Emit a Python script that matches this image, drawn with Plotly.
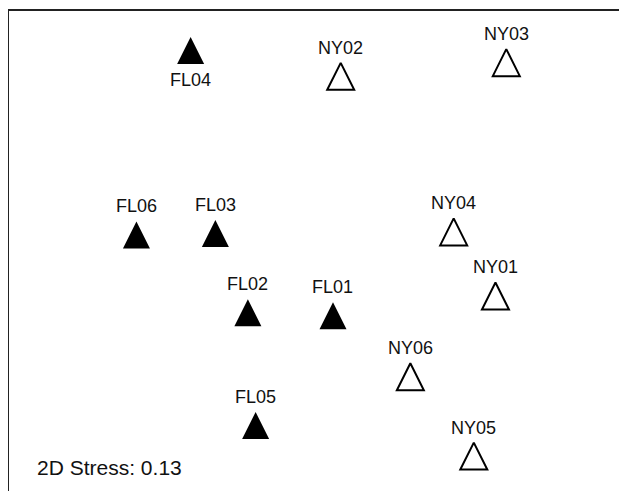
import plotly.graph_objects as go

# NMDS ordination scores (axis units)
fl_sites = ["FL01", "FL02", "FL03", "FL04", "FL05", "FL06"]
fl_x = [0.10, -0.45, -0.66, -0.82, -0.40, -1.17]
fl_y = [-0.31, -0.29, 0.23, 1.43, -1.03, 0.22]

ny_sites = ["NY01", "NY02", "NY03", "NY04", "NY05", "NY06"]
ny_x = [1.15, 0.15, 1.22, 0.88, 1.01, 0.60]
ny_y = [-0.18, 1.26, 1.35, 0.24, -1.23, -0.71]

stress_text = "2D Stress: 0.13"

# label placement relative to each marker
label_below = {"FL04"}

FONT = "Liberation Sans, Arial, sans-serif"

fig = go.Figure()
fig.add_trace(go.Scatter(
    x=fl_x, y=fl_y, mode="markers", name="FL",
    marker=dict(symbol="arrow-up", size=27, color="black", line=dict(width=0)),
    hovertext=fl_sites, showlegend=False,
))
fig.add_trace(go.Scatter(
    x=ny_x, y=ny_y, mode="markers", name="NY",
    marker=dict(symbol="arrow-up-open", size=27, color="black",
                line=dict(width=2, color="black")),
    hovertext=ny_sites, showlegend=False,
))

for names, xs, ys in ((fl_sites, fl_x, fl_y), (ny_sites, ny_x, ny_y)):
    for n, x, y in zip(names, xs, ys):
        fig.add_annotation(
            x=x, y=y, xref="x", yref="y", text=n, showarrow=False,
            xanchor="center", yanchor="middle",
            yshift=-43 if n in label_below else 15,
            font=dict(family=FONT, size=18, color="#111"),
        )

fig.add_annotation(
    x=0.043, y=0.048, xref="paper", yref="paper", text=stress_text,
    showarrow=False, xanchor="left", yanchor="middle",
    font=dict(family=FONT, size=21, color="#111"),
)

fig.update_xaxes(range=[-1.9935, 1.9483], side="top", showline=True, linewidth=2,
                 linecolor="#222", showgrid=False, zeroline=False,
                 showticklabels=False, ticks="")
fig.update_yaxes(range=[-1.5475, 1.6], showline=True, linewidth=2,
                 linecolor="#222", showgrid=False, zeroline=False,
                 showticklabels=False, ticks="")

fig.update_layout(
    width=611, height=483,
    margin=dict(l=1, r=0, t=3, b=0),
    plot_bgcolor="white", paper_bgcolor="white",
    showlegend=False,
)

fig.write_html("out.html")
